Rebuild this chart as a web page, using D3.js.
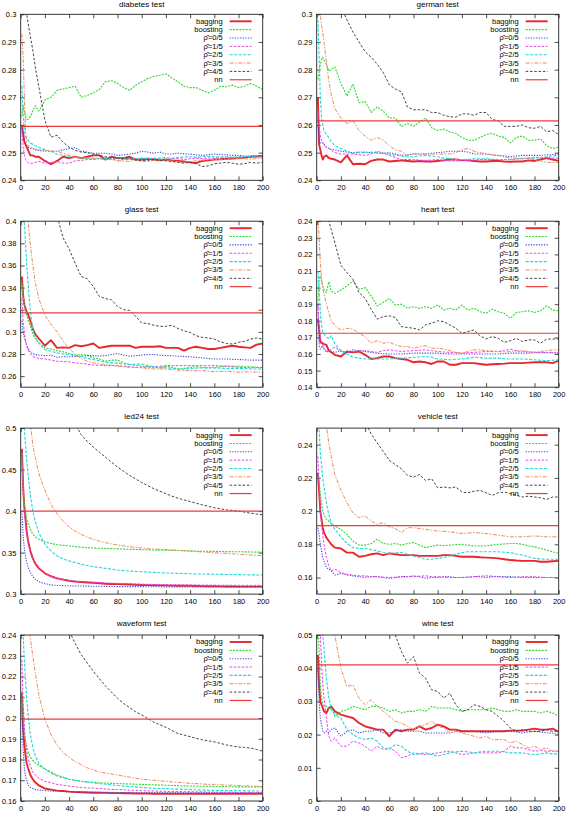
<!DOCTYPE html>
<html><head><meta charset="utf-8">
<script src="https://cdn.jsdelivr.net/npm/d3@7"></script>
<style>
body{margin:0;background:#fff}
svg{display:block}
text{font-family:"Liberation Sans",Arial,Helvetica,sans-serif;fill:#000}
</style>
</head><body>
<svg id="chart" width="570" height="814"></svg>
<script>
// ---------- data ----------
const xs = [1,2,3,4,5,6,8,10,12,15,
  20,25,30,35,40,45,50,55,60,65,
  70,75,80,85,90,95,100,105,110,115,
  120,125,130,135,140,145,150,155,160,165,
  170,175,180,185,190,195,200];

const panelTitles = ["diabetes test","german test","glass test","heart test","led24 test","vehicle test","waveform test","wine test"];
const seriesNames = ["bagging","boosting","\u03C1\u0302=0/5","\u03C1\u0302=1/5","\u03C1\u0302=2/5","\u03C1\u0302=3/5","\u03C1\u0302=4/5","nn"];
const xTicks = [0,20,40,60,80,100,120,140,160,180,200];
const yDomains = [[0.24,0.30],[0.24,0.30],[0.25,0.40],[0.14,0.24],[0.30,0.50],[0.15,0.25],[0.16,0.24],[0,0.05]];
const yTicks = [
  [0.24,0.25,0.26,0.27,0.28,0.29,0.3],
  [0.24,0.25,0.26,0.27,0.28,0.29,0.3],
  [0.26,0.28,0.3,0.32,0.34,0.36,0.38,0.4],
  [0.14,0.15,0.16,0.17,0.18,0.19,0.2,0.21,0.22,0.23,0.24],
  [0.3,0.35,0.4,0.45,0.5],
  [0.16,0.18,0.2,0.22,0.24],
  [0.16,0.17,0.18,0.19,0.2,0.21,0.22,0.23,0.24],
  [0,0.01,0.02,0.03,0.04,0.05]
];
const nnLevels = [0.2595,0.2615,0.3172,0.1725,0.40,0.1913,0.1995,0.041];

// series order: bagging, boosting, rho0, rho1, rho2, rho3, rho4
const diabetesSeries = [
 [0.260,0.257,0.254,0.253,0.252,0.251,0.249,0.249,0.2485,0.2485, 0.247,0.2458,0.247,0.2485,0.248,0.2485,0.248,0.2485,0.249,0.249, 0.2475,0.2485,0.248,0.248,0.2485,0.2475,0.2475,0.2478,0.2475,0.2473, 0.2475,0.2472,0.247,0.2468,0.2465,0.2462,0.247,0.2472,0.2475,0.2476, 0.2478,0.2479,0.248,0.2482,0.2485,0.2486,0.2488],
 [0.263,0.267,0.265,0.263,0.262,0.262,0.263,0.265,0.267,0.265, 0.269,0.270,0.2725,0.273,0.2735,0.274,0.270,0.2707,0.2716,0.2728, 0.2756,0.276,0.275,0.2735,0.2725,0.2744,0.2756,0.2768,0.2775,0.278, 0.2785,0.277,0.2756,0.274,0.2735,0.2735,0.2725,0.2716,0.2725,0.274, 0.2738,0.2744,0.2735,0.274,0.275,0.274,0.2728],
 [0.259,0.256,0.254,0.253,0.2525,0.252,0.2515,0.2515,0.251,0.2508, 0.2505,0.2505,0.2505,0.251,0.2515,0.2518,0.2505,0.2502,0.2498,0.2498, 0.2498,0.2495,0.249,0.2492,0.2495,0.2498,0.2505,0.2502,0.2498,0.2502, 0.2495,0.2495,0.2498,0.2496,0.2495,0.2492,0.249,0.2492,0.2495,0.2493, 0.2492,0.249,0.249,0.2488,0.2488,0.2489,0.249],
 [0.258,0.252,0.249,0.2475,0.247,0.2465,0.246,0.2462,0.2465,0.2468, 0.2462,0.2465,0.2468,0.2462,0.2462,0.247,0.2472,0.2475,0.2475,0.2478, 0.2475,0.2478,0.2472,0.2475,0.2478,0.2475,0.2478,0.248,0.2478,0.2476, 0.2475,0.2478,0.2478,0.2475,0.2478,0.248,0.2478,0.248,0.248,0.2482, 0.248,0.2482,0.2482,0.2484,0.2485,0.2485,0.2485],
 [0.274,0.264,0.258,0.256,0.255,0.2545,0.2535,0.253,0.2525,0.252, 0.251,0.2505,0.2495,0.249,0.2485,0.2482,0.248,0.248,0.2478,0.248, 0.248,0.2478,0.248,0.2478,0.2476,0.2478,0.248,0.2478,0.248,0.248, 0.2482,0.248,0.2482,0.2484,0.2485,0.2483,0.2485,0.2486,0.2485,0.2484, 0.2485,0.2484,0.2485,0.2486,0.2485,0.2484,0.2485],
 [0.293,0.285,0.270,0.258,0.253,0.2525,0.252,0.2515,0.2512,0.251, 0.251,0.2505,0.2505,0.2498,0.249,0.2485,0.248,0.248,0.248,0.2478, 0.2475,0.2475,0.247,0.247,0.2468,0.2472,0.247,0.2468,0.2472,0.247, 0.2472,0.247,0.2468,0.2465,0.2468,0.247,0.2472,0.2475,0.2475,0.2476, 0.2476,0.2478,0.2478,0.2478,0.2477,0.2478,0.2478],
 [0.34,0.325,0.315,0.305,0.300,0.297,0.292,0.287,0.281,0.2738, 0.2617,0.2556,0.2563,0.2538,0.252,0.2508,0.2502,0.250,0.2495,0.249, 0.2485,0.2482,0.248,0.2478,0.2478,0.2474,0.247,0.2472,0.2475,0.2472, 0.247,0.2468,0.2465,0.2462,0.2465,0.246,0.245,0.2452,0.246,0.2462, 0.2465,0.2462,0.2458,0.246,0.2465,0.2462,0.2465]
];
const germanSeries = [
 [0.270,0.253,0.251,0.249,0.2475,0.2485,0.249,0.248,0.2478,0.2475, 0.2465,0.249,0.2458,0.246,0.2458,0.247,0.2475,0.2475,0.2468,0.247, 0.2472,0.247,0.2468,0.247,0.2468,0.2468,0.247,0.2472,0.2475,0.2475, 0.2473,0.2472,0.247,0.2468,0.2468,0.247,0.247,0.2468,0.2467,0.2468, 0.2468,0.2472,0.247,0.2475,0.248,0.2475,0.247],
 [0.2765,0.279,0.282,0.2835,0.2845,0.2835,0.282,0.2795,0.280,0.281, 0.275,0.2705,0.2747,0.268,0.2685,0.2645,0.2665,0.265,0.2625,0.2625, 0.2594,0.2605,0.2595,0.261,0.2625,0.259,0.258,0.2585,0.2575,0.257, 0.2555,0.2545,0.2545,0.2555,0.2565,0.257,0.256,0.2555,0.2535,0.2555, 0.256,0.2545,0.2545,0.255,0.2525,0.2515,0.252],
 [0.263,0.254,0.2535,0.2535,0.2535,0.253,0.252,0.2515,0.2512,0.251, 0.2505,0.2502,0.250,0.2502,0.2502,0.250,0.2498,0.2498,0.250,0.2495, 0.249,0.2492,0.2495,0.2495,0.2495,0.2498,0.250,0.2502,0.2505,0.2505, 0.2505,0.2502,0.2495,0.2495,0.2495,0.2492,0.249,0.2488,0.2485,0.2488, 0.249,0.249,0.249,0.249,0.2492,0.2493,0.2495],
 [0.265,0.26,0.256,0.2545,0.2535,0.253,0.252,0.2515,0.2508,0.250, 0.2495,0.2495,0.2495,0.2492,0.249,0.2495,0.2505,0.2498,0.249,0.2482, 0.2475,0.2475,0.2475,0.2473,0.2472,0.2473,0.2475,0.2472,0.247,0.247, 0.247,0.2472,0.2473,0.2475,0.2475,0.2475,0.2475,0.2475,0.2475,0.2477, 0.2478,0.248,0.2482,0.2482,0.2482,0.248,0.248],
 [0.298,0.285,0.270,0.263,0.26,0.258,0.2565,0.2555,0.254,0.2525, 0.2515,0.2505,0.2498,0.250,0.250,0.2502,0.250,0.2498,0.2495,0.249, 0.2488,0.2485,0.2485,0.2488,0.249,0.2488,0.2485,0.248,0.2478,0.2475, 0.2475,0.2476,0.2478,0.2478,0.2478,0.2476,0.2475,0.2475,0.2475,0.2478, 0.2478,0.248,0.248,0.2482,0.2485,0.2488,0.249],
 [0.33,0.312,0.300,0.296,0.2935,0.290,0.283,0.276,0.271,0.266, 0.2625,0.2605,0.2615,0.258,0.256,0.2545,0.2555,0.2545,0.2525,0.251, 0.2505,0.249,0.2495,0.2495,0.2495,0.2495,0.2495,0.2495,0.2495,0.250, 0.251,0.2515,0.2505,0.250,0.2495,0.2492,0.249,0.2485,0.248,0.248, 0.248,0.2478,0.2475,0.247,0.2465,0.2465,0.2465],
 [0.40,0.39,0.38,0.37,0.36,0.352,0.34,0.33,0.322,0.313, 0.303,0.298,0.2935,0.290,0.2865,0.2845,0.282,0.279,0.2745,0.273, 0.272,0.2665,0.2655,0.2655,0.2655,0.2645,0.2645,0.2635,0.263,0.2628, 0.264,0.264,0.2635,0.2645,0.2645,0.262,0.2615,0.2595,0.2595,0.2595, 0.260,0.259,0.2588,0.2595,0.2575,0.258,0.2565]
];
const glassSeries = [
 [0.350,0.333,0.325,0.321,0.318,0.316,0.31,0.303,0.298,0.294, 0.2875,0.2925,0.2855,0.286,0.2855,0.288,0.287,0.288,0.2895,0.2855, 0.2865,0.2875,0.2875,0.2875,0.2875,0.2855,0.2865,0.2865,0.2865,0.287, 0.2855,0.2855,0.2855,0.283,0.2855,0.2865,0.2855,0.2845,0.2845,0.2855, 0.2865,0.2875,0.2865,0.286,0.2855,0.2885,0.2895],
 [0.345,0.332,0.325,0.32,0.315,0.311,0.305,0.298,0.294,0.29, 0.2855,0.2845,0.283,0.282,0.2805,0.279,0.2795,0.279,0.2765,0.2755, 0.2735,0.2745,0.2745,0.272,0.2705,0.270,0.269,0.2685,0.268,0.2675, 0.269,0.268,0.2665,0.267,0.268,0.2685,0.268,0.2675,0.268,0.2685, 0.269,0.2688,0.269,0.2685,0.2685,0.268,0.2675],
 [0.31,0.30,0.295,0.291,0.288,0.285,0.282,0.28,0.2795,0.279, 0.2785,0.279,0.277,0.2775,0.2775,0.2778,0.278,0.2785,0.2785,0.2782, 0.2785,0.2795,0.2805,0.279,0.278,0.2785,0.279,0.2795,0.2795,0.279, 0.2785,0.2785,0.278,0.2778,0.2775,0.277,0.2765,0.276,0.2755,0.2755, 0.2755,0.2752,0.275,0.2748,0.2745,0.2745,0.2745],
 [0.33,0.31,0.30,0.293,0.287,0.284,0.28,0.2775,0.277,0.276, 0.2755,0.2745,0.2735,0.2732,0.273,0.272,0.2715,0.2708,0.270,0.2698, 0.2695,0.2695,0.2695,0.269,0.2685,0.268,0.268,0.2682,0.2685,0.269, 0.2695,0.2695,0.2695,0.2695,0.2695,0.2695,0.2695,0.2695,0.2695,0.2692, 0.269,0.2685,0.268,0.2678,0.2675,0.2678,0.268],
 [0.46,0.43,0.40,0.38,0.36,0.345,0.318,0.302,0.296,0.29, 0.284,0.2825,0.281,0.280,0.2795,0.2785,0.2775,0.276,0.275,0.2738, 0.2725,0.272,0.2715,0.271,0.2705,0.2708,0.271,0.2695,0.2685,0.268, 0.2675,0.267,0.2665,0.2665,0.267,0.2672,0.2675,0.2675,0.2675,0.2672, 0.267,0.267,0.267,0.2668,0.2665,0.2665,0.2665],
 [0.52,0.48,0.455,0.435,0.418,0.40,0.378,0.36,0.345,0.33, 0.315,0.307,0.30,0.292,0.285,0.28,0.276,0.2735,0.272,0.271, 0.2705,0.2698,0.269,0.2685,0.268,0.2678,0.2675,0.267,0.2665,0.2665, 0.2665,0.266,0.2655,0.2652,0.265,0.2648,0.265,0.2645,0.264,0.2642, 0.2645,0.264,0.2635,0.2638,0.264,0.2636,0.2635],
 [0.70,0.65,0.62,0.60,0.58,0.56,0.53,0.51,0.49,0.47, 0.44,0.42,0.405,0.385,0.375,0.362,0.35,0.348,0.341,0.332, 0.33,0.329,0.323,0.32,0.3195,0.314,0.308,0.3075,0.306,0.305, 0.305,0.306,0.303,0.301,0.2995,0.2965,0.295,0.2945,0.2935,0.291, 0.2895,0.289,0.2905,0.2915,0.2935,0.2945,0.2935]
];
const heartSeries = [
 [0.181,0.175,0.167,0.1668,0.1665,0.166,0.1655,0.162,0.161,0.1595, 0.1585,0.1615,0.161,0.1615,0.1595,0.157,0.1575,0.1585,0.1585,0.1575, 0.157,0.1565,0.155,0.1555,0.155,0.154,0.1555,0.1555,0.1535,0.1535, 0.1545,0.1545,0.1545,0.154,0.1535,0.1538,0.154,0.1542,0.1545,0.1545, 0.1545,0.1548,0.155,0.155,0.155,0.1545,0.156],
 [0.19,0.205,0.207,0.204,0.201,0.199,0.197,0.2035,0.198,0.1965, 0.1985,0.201,0.204,0.199,0.200,0.195,0.189,0.191,0.1935,0.1895, 0.190,0.1875,0.1885,0.1875,0.1885,0.1875,0.1895,0.1865,0.1875,0.1865, 0.1895,0.1865,0.1875,0.1855,0.1845,0.187,0.1855,0.1845,0.1815,0.185, 0.1855,0.186,0.185,0.186,0.189,0.1865,0.186],
 [0.19,0.165,0.163,0.164,0.165,0.163,0.161,0.1625,0.1615,0.161, 0.162,0.1605,0.1625,0.162,0.1615,0.161,0.1605,0.1602,0.160,0.160, 0.160,0.1602,0.1605,0.1605,0.1605,0.1605,0.1605,0.1602,0.160,0.160, 0.160,0.160,0.160,0.160,0.160,0.160,0.160,0.1602,0.1605,0.1605, 0.1605,0.1605,0.1608,0.1608,0.1608,0.1606,0.1605],
 [0.19,0.178,0.17,0.167,0.165,0.1635,0.162,0.1615,0.163,0.164, 0.1615,0.1612,0.1615,0.1618,0.162,0.1615,0.161,0.162,0.1625,0.162, 0.1615,0.1618,0.162,0.1622,0.1625,0.162,0.1615,0.1612,0.161,0.1608, 0.1605,0.1608,0.161,0.1612,0.1615,0.1615,0.1615,0.162,0.163,0.162, 0.1615,0.1612,0.161,0.161,0.161,0.161,0.161],
 [0.21,0.20,0.185,0.178,0.173,0.172,0.1705,0.169,0.171,0.166, 0.162,0.160,0.158,0.1575,0.157,0.157,0.157,0.157,0.157,0.1572, 0.1575,0.1578,0.158,0.1582,0.1585,0.158,0.157,0.1568,0.1565,0.1568, 0.157,0.1575,0.158,0.1578,0.1575,0.1575,0.1575,0.1572,0.157,0.157, 0.157,0.1568,0.1565,0.1562,0.156,0.1562,0.1565],
 [0.245,0.23,0.215,0.206,0.20,0.196,0.19,0.185,0.18,0.177, 0.1745,0.1755,0.175,0.1725,0.1705,0.1665,0.168,0.1665,0.167,0.1655, 0.1645,0.1645,0.1635,0.1645,0.165,0.1635,0.1635,0.163,0.162,0.161, 0.1605,0.1615,0.1625,0.1625,0.162,0.1618,0.1615,0.1612,0.1615,0.1618, 0.162,0.1615,0.161,0.1615,0.162,0.1625,0.1625],
 [0.30,0.29,0.28,0.27,0.262,0.256,0.248,0.24,0.235,0.227, 0.2135,0.209,0.205,0.197,0.1935,0.187,0.181,0.1825,0.183,0.182, 0.1765,0.176,0.1755,0.1745,0.1775,0.1785,0.180,0.1795,0.1775,0.1755, 0.1725,0.1735,0.1745,0.171,0.169,0.1705,0.1695,0.167,0.168,0.1695, 0.1675,0.1685,0.1685,0.1665,0.169,0.169,0.169]
];
const led24Series = [
 [0.475,0.43,0.405,0.39,0.375,0.365,0.352,0.343,0.337,0.331, 0.325,0.3215,0.319,0.3175,0.316,0.315,0.3145,0.314,0.3135,0.313, 0.3125,0.3122,0.312,0.3118,0.3115,0.3112,0.311,0.3108,0.3106,0.3105, 0.3105,0.3102,0.31,0.31,0.31,0.3098,0.3096,0.3095,0.3095,0.3093, 0.3092,0.3092,0.309,0.309,0.309,0.309,0.309],
 [0.47,0.43,0.41,0.40,0.39,0.385,0.378,0.372,0.369,0.366, 0.363,0.361,0.3595,0.3588,0.358,0.3572,0.3565,0.356,0.3555,0.3552, 0.355,0.3548,0.3545,0.3542,0.354,0.3538,0.3535,0.3533,0.3531,0.353, 0.353,0.3527,0.3525,0.3522,0.352,0.3518,0.3516,0.3515,0.3515,0.3513, 0.3512,0.3511,0.351,0.3509,0.3508,0.3506,0.3505],
 [0.40,0.37,0.355,0.345,0.338,0.333,0.326,0.321,0.318,0.315, 0.3125,0.311,0.3105,0.3102,0.31,0.3098,0.3097,0.3096,0.3095,0.3094, 0.3093,0.3092,0.309,0.309,0.309,0.309,0.309,0.3089,0.3088,0.3088, 0.3087,0.3087,0.3086,0.3086,0.3085,0.3085,0.3085,0.3085,0.3085,0.3085, 0.3085,0.3085,0.3085,0.3085,0.3085,0.3085,0.3085],
 [0.47,0.42,0.40,0.385,0.372,0.363,0.35,0.342,0.337,0.331, 0.325,0.3215,0.3195,0.318,0.317,0.316,0.3152,0.3148,0.3145,0.314, 0.3135,0.3132,0.313,0.3127,0.3125,0.3122,0.312,0.3118,0.3117,0.3115, 0.3114,0.3113,0.3112,0.3111,0.311,0.311,0.3109,0.3108,0.3108,0.3107, 0.3107,0.3106,0.3106,0.3105,0.3105,0.3105,0.3105],
 [0.56,0.53,0.50,0.48,0.46,0.445,0.42,0.40,0.388,0.374, 0.36,0.352,0.346,0.3425,0.34,0.338,0.336,0.3345,0.333,0.332, 0.331,0.330,0.329,0.3283,0.3277,0.3273,0.327,0.3265,0.3262,0.3258, 0.3255,0.3252,0.325,0.3248,0.3245,0.3243,0.3242,0.3241,0.324,0.3238, 0.3237,0.3236,0.3235,0.3233,0.3232,0.3231,0.323],
 [0.68,0.62,0.58,0.56,0.54,0.525,0.505,0.48,0.465,0.445, 0.425,0.408,0.397,0.388,0.381,0.376,0.372,0.3685,0.366,0.3638, 0.362,0.3605,0.3593,0.3582,0.3572,0.3563,0.3555,0.3548,0.3542,0.3538, 0.3534,0.3531,0.3528,0.3523,0.3518,0.3513,0.3508,0.3503,0.3498,0.3494, 0.349,0.3485,0.348,0.3475,0.347,0.3467,0.3463],
 [0.95,0.9,0.86,0.83,0.8,0.78,0.74,0.71,0.68,0.65, 0.61,0.58,0.555,0.535,0.52,0.505,0.492,0.484,0.477,0.471, 0.465,0.459,0.453,0.448,0.443,0.4388,0.4345,0.4307,0.427,0.424, 0.421,0.418,0.4155,0.4135,0.4115,0.4095,0.4075,0.4058,0.404,0.4028, 0.4015,0.4008,0.400,0.3988,0.3975,0.3965,0.3955]
];
const vehicleSeries = [
 [0.223,0.212,0.20,0.195,0.19,0.187,0.184,0.182,0.18,0.178, 0.1775,0.175,0.175,0.1725,0.173,0.174,0.1745,0.1735,0.1745,0.174, 0.1735,0.1735,0.1735,0.173,0.173,0.173,0.173,0.1735,0.1735,0.173, 0.1725,0.1725,0.1725,0.1722,0.172,0.1718,0.1715,0.171,0.1705,0.1702, 0.170,0.170,0.170,0.1695,0.1695,0.1698,0.170],
 [0.222,0.218,0.21,0.205,0.20,0.198,0.195,0.194,0.1925,0.191, 0.189,0.186,0.182,0.1795,0.1795,0.1805,0.183,0.1805,0.180,0.1805, 0.1795,0.1805,0.181,0.1795,0.178,0.1788,0.1795,0.1792,0.1795,0.1798, 0.180,0.1795,0.179,0.179,0.179,0.1795,0.180,0.1802,0.1805,0.1805, 0.180,0.179,0.1785,0.1775,0.1765,0.1755,0.1745],
 [0.19,0.186,0.18,0.176,0.172,0.17,0.166,0.165,0.164,0.1615, 0.1625,0.1615,0.161,0.1605,0.160,0.1605,0.1605,0.160,0.1595,0.160, 0.1605,0.1605,0.161,0.1605,0.1595,0.160,0.160,0.1605,0.1605,0.160, 0.160,0.1602,0.1605,0.1605,0.160,0.1605,0.1605,0.1605,0.1605,0.1602, 0.160,0.160,0.160,0.160,0.160,0.160,0.160],
 [0.233,0.215,0.20,0.192,0.185,0.18,0.172,0.167,0.164,0.165, 0.163,0.162,0.1615,0.161,0.161,0.1605,0.1605,0.1602,0.160,0.1602, 0.1605,0.1605,0.1605,0.1608,0.161,0.1605,0.1605,0.1602,0.160,0.160, 0.160,0.1602,0.1605,0.1608,0.161,0.1608,0.1605,0.1602,0.160,0.1602, 0.1605,0.1605,0.1605,0.1602,0.160,0.160,0.160],
 [0.26,0.25,0.235,0.228,0.22,0.215,0.205,0.198,0.193,0.189, 0.1845,0.1805,0.178,0.1775,0.1775,0.1768,0.176,0.1752,0.1745,0.1748, 0.175,0.174,0.173,0.172,0.171,0.171,0.1715,0.172,0.173,0.174, 0.175,0.1755,0.1755,0.1755,0.1755,0.1755,0.1755,0.1752,0.175,0.1742, 0.1735,0.1725,0.1715,0.1712,0.171,0.171,0.171],
 [0.30,0.29,0.28,0.272,0.266,0.261,0.252,0.241,0.233,0.222, 0.2125,0.205,0.199,0.196,0.197,0.194,0.192,0.193,0.1905,0.1895, 0.187,0.19,0.19,0.1895,0.189,0.1885,0.188,0.1878,0.1875,0.187, 0.1865,0.1868,0.187,0.1868,0.1865,0.186,0.1855,0.185,0.1845,0.1845, 0.1845,0.1848,0.185,0.1848,0.1845,0.1845,0.1845],
 [0.40,0.38,0.36,0.35,0.34,0.33,0.32,0.31,0.30,0.29, 0.285,0.278,0.27,0.262,0.254,0.2465,0.241,0.236,0.2305,0.228, 0.2255,0.2215,0.2205,0.222,0.2185,0.2195,0.214,0.2145,0.214,0.2145, 0.2115,0.211,0.212,0.2125,0.211,0.2095,0.211,0.2115,0.2105,0.2095, 0.2085,0.209,0.2085,0.208,0.207,0.2085,0.2085]
];
const waveformSeries = [
 [0.212,0.195,0.187,0.182,0.178,0.176,0.1725,0.1705,0.169,0.1675, 0.166,0.1655,0.165,0.1648,0.1645,0.1643,0.1642,0.1641,0.164,0.164, 0.1639,0.1638,0.1638,0.1637,0.1637,0.1636,0.1636,0.1636,0.1635,0.1635, 0.1635,0.1635,0.1635,0.1635,0.1635,0.1635,0.1635,0.1635,0.1635,0.1635, 0.1635,0.1635,0.1635,0.1635,0.1635,0.1635,0.1635],
 [0.213,0.20,0.193,0.189,0.186,0.184,0.181,0.1795,0.1785,0.177, 0.1755,0.174,0.1725,0.1715,0.1705,0.17,0.1695,0.1692,0.169,0.1688, 0.1686,0.1685,0.1684,0.1683,0.1682,0.1681,0.168,0.1679,0.1678,0.1677, 0.1676,0.1675,0.1674,0.1673,0.1672,0.1672,0.1671,0.1671,0.167,0.167, 0.1669,0.1669,0.1668,0.1668,0.1668,0.1668,0.1668],
 [0.205,0.185,0.176,0.172,0.17,0.168,0.1665,0.166,0.1656,0.1653, 0.165,0.1648,0.1647,0.1646,0.1645,0.1644,0.1644,0.1643,0.1643,0.1642, 0.1642,0.1641,0.1641,0.1641,0.164,0.164,0.164,0.164,0.164,0.164, 0.164,0.164,0.164,0.164,0.164,0.164,0.164,0.164,0.164,0.164, 0.164,0.164,0.164,0.164,0.164,0.164,0.164],
 [0.228,0.208,0.196,0.189,0.184,0.181,0.177,0.174,0.1725,0.171, 0.1695,0.1688,0.168,0.1676,0.1672,0.1668,0.1665,0.1663,0.1662,0.166, 0.1658,0.1656,0.1655,0.1654,0.1652,0.1651,0.165,0.1649,0.1648,0.1647, 0.1647,0.1646,0.1646,0.1645,0.1645,0.1644,0.1644,0.1643,0.1643,0.1642, 0.1642,0.1642,0.1641,0.1641,0.164,0.164,0.164],
 [0.25,0.24,0.228,0.218,0.209,0.202,0.192,0.186,0.182,0.178, 0.1755,0.1735,0.172,0.1712,0.1705,0.17,0.1695,0.1691,0.1688,0.1684, 0.1681,0.1678,0.1675,0.1672,0.167,0.1668,0.1665,0.1663,0.1661,0.166, 0.166,0.1658,0.1657,0.1656,0.1655,0.1654,0.1653,0.1652,0.1651,0.165, 0.165,0.165,0.165,0.1649,0.1649,0.1648,0.1648],
 [0.29,0.275,0.265,0.258,0.252,0.247,0.238,0.23,0.222,0.211, 0.1995,0.192,0.187,0.1835,0.181,0.179,0.1775,0.176,0.175,0.174, 0.1735,0.173,0.1725,0.172,0.1715,0.171,0.1705,0.1702,0.17,0.1697, 0.1695,0.1692,0.169,0.1688,0.1685,0.1684,0.1682,0.168,0.168,0.1678, 0.1677,0.1676,0.1675,0.1673,0.1672,0.1671,0.167],
 [0.40,0.38,0.36,0.35,0.34,0.33,0.315,0.30,0.29,0.28, 0.275,0.265,0.256,0.249,0.242,0.236,0.2305,0.2265,0.2225,0.219, 0.2155,0.2125,0.2095,0.207,0.205,0.203,0.2015,0.1998,0.198,0.1968, 0.1955,0.194,0.1925,0.1918,0.191,0.1902,0.1895,0.189,0.1885,0.1878, 0.187,0.1865,0.186,0.1858,0.1855,0.1848,0.184]
];
const wineSeries = [
 [0.044,0.035,0.03,0.029,0.028,0.027,0.0265,0.028,0.0285,0.027, 0.026,0.0255,0.025,0.0235,0.0225,0.022,0.0215,0.0215,0.0195,0.0215, 0.021,0.0215,0.0215,0.0225,0.0215,0.022,0.023,0.0225,0.0215,0.0215, 0.021,0.021,0.021,0.021,0.021,0.021,0.021,0.021,0.0212,0.0212, 0.0212,0.0215,0.0218,0.0215,0.0215,0.0218,0.0208],
 [0.055,0.045,0.035,0.031,0.029,0.0285,0.0285,0.0275,0.028,0.0255, 0.027,0.0275,0.0285,0.028,0.0275,0.0285,0.0285,0.028,0.027,0.0275, 0.0265,0.027,0.027,0.0275,0.027,0.0285,0.028,0.028,0.028,0.0275, 0.027,0.0275,0.0275,0.0275,0.0275,0.028,0.0275,0.027,0.027,0.0275, 0.027,0.027,0.027,0.0265,0.027,0.0265,0.0255],
 [0.04,0.03,0.025,0.023,0.021,0.0205,0.021,0.0205,0.0215,0.022, 0.0195,0.021,0.0215,0.0205,0.021,0.021,0.0215,0.0205,0.0205,0.021, 0.0215,0.021,0.021,0.021,0.0205,0.0205,0.0205,0.0205,0.0205,0.021, 0.021,0.021,0.021,0.0208,0.0205,0.0208,0.021,0.021,0.021,0.0208, 0.0205,0.0208,0.021,0.0208,0.0205,0.0205,0.020],
 [0.07,0.06,0.05,0.042,0.035,0.031,0.025,0.0195,0.018,0.019, 0.0165,0.0165,0.018,0.0175,0.0165,0.015,0.0165,0.0155,0.016,0.015, 0.013,0.0135,0.0145,0.0142,0.014,0.0142,0.0145,0.0148,0.015,0.0145, 0.014,0.0142,0.0145,0.0145,0.0145,0.0145,0.0145,0.015,0.0165,0.016, 0.016,0.0155,0.015,0.0152,0.015,0.015,0.015],
 [0.075,0.065,0.058,0.053,0.05,0.046,0.037,0.031,0.028,0.026, 0.025,0.0215,0.020,0.019,0.0185,0.019,0.018,0.016,0.0155,0.017, 0.0165,0.015,0.014,0.0142,0.0145,0.014,0.0135,0.014,0.0145,0.0148, 0.015,0.0148,0.0145,0.0148,0.015,0.015,0.015,0.0148,0.0145,0.0145, 0.0145,0.0142,0.014,0.0142,0.0145,0.0142,0.0142],
 [0.10,0.09,0.085,0.08,0.075,0.07,0.065,0.06,0.056,0.05, 0.04,0.0345,0.035,0.031,0.029,0.0305,0.0285,0.027,0.0255,0.024, 0.0235,0.0225,0.0215,0.0225,0.023,0.024,0.0225,0.022,0.0205,0.021, 0.0205,0.020,0.0195,0.019,0.0195,0.0185,0.0185,0.0185,0.0175,0.018, 0.017,0.016,0.0165,0.0155,0.016,0.015,0.0152],
 [0.20,0.19,0.18,0.17,0.165,0.16,0.15,0.14,0.13,0.12, 0.105,0.095,0.088,0.08,0.074,0.068,0.062,0.058,0.054,0.05, 0.045,0.0415,0.0435,0.0385,0.037,0.0335,0.033,0.031,0.0325,0.029, 0.027,0.0275,0.029,0.0285,0.0275,0.027,0.0255,0.024,0.022,0.021, 0.0215,0.021,0.021,0.021,0.0215,0.021,0.021]
];
const panelSeries = [diabetesSeries,germanSeries,glassSeries,heartSeries,led24Series,vehicleSeries,waveformSeries,wineSeries];

// ---------- style ----------
const colors = ["#e8262c","#33d633","#4040e0","#e844e8","#22d8d8","#ee8a5c","#444444","#ee3a3a"];
const widths = [1.9,1.1,1.1,1.0,1.1,1.0,1.0,1.2];
const dashes = [null,"2,1.2","1.2,1.4","2.5,1.5","3,1.5","4,1.5,1.5,1.5","2.5,1.8",null];

const colX = [20.7,316.7], rowY = [14.3,221.2,428.1,635.0];
const W = 242, H = 166;

const svg = d3.select("#chart");
svg.append("rect").attr("width",570).attr("height",814).attr("fill","#fff");

panelSeries.forEach((series, p) => {
  const top = rowY[Math.floor(p/2)];
  const g = svg.append("g").attr("transform",`translate(${colX[p%2]},${top})`);
  const x = d3.scaleLinear().domain([0,200]).range([0,W]);
  const y = d3.scaleLinear().domain(yDomains[p]).range([H,0]);
  const fmt = d3.format("~g");

  const clipId = "clip"+p;
  g.append("clipPath").attr("id",clipId).append("rect").attr("width",W).attr("height",H);

  // axes (inward ticks, mirrored)
  const axL = g.append("g").call(d3.axisLeft(y).tickValues(yTicks[p]).tickSize(-4).tickPadding(4.4).tickFormat(fmt));
  const axR = g.append("g").attr("transform",`translate(${W},0)`).call(d3.axisRight(y).tickValues(yTicks[p]).tickSize(-4).tickFormat(""));
  const axB = g.append("g").attr("transform",`translate(0,${H})`).call(d3.axisBottom(x).tickValues(xTicks).tickSize(-4).tickPadding(4.6).tickFormat(fmt));
  const axT = g.append("g").call(d3.axisTop(x).tickValues(xTicks).tickSize(-4).tickFormat(""));
  [axL,axR,axB,axT].forEach(a => {
    a.select(".domain").remove();
    a.selectAll("line").attr("stroke","#222").attr("stroke-width",0.8);
    a.selectAll("text").attr("font-size","7.5px").attr("fill","#000")
      .attr("font-family","'Liberation Sans',Arial,sans-serif");
  });

  // series lines
  const line = d3.line().x(d => x(d[0])).y(d => y(d[1]));
  const plot = g.append("g").attr("clip-path",`url(#${clipId})`);
  series.forEach((vals, s) => {
    const pts = xs.map((xv,i) => [xv, vals[i]]);
    plot.append("path").datum(pts).attr("d",line)
      .attr("fill","none").attr("stroke",colors[s]).attr("stroke-width",widths[s])
      .attr("stroke-dasharray",dashes[s]).attr("stroke-linejoin","round");
  });
  // nn reference line
  plot.append("path").datum([[0,nnLevels[p]],[200,nnLevels[p]]]).attr("d",line)
    .attr("fill","none").attr("stroke",colors[7]).attr("stroke-width",widths[7]);

  // border
  g.append("rect").attr("width",W).attr("height",H).attr("fill","none")
    .attr("stroke","#222").attr("stroke-width",0.9);

  // title (kept fully inside the page for the top row)
  g.append("text").attr("x",W/2).attr("y",Math.max(-9.2, 7.2 - top)).attr("text-anchor","middle")
    .attr("font-size","8px").text(panelTitles[p]);

  // legend
  const lg = g.append("g");
  seriesNames.forEach((name, s) => {
    const yy = 7 + s*8.35;
    lg.append("text").attr("x",W-40).attr("y",yy).attr("dy","0.33em")
      .attr("text-anchor","end").attr("font-size","7.5px").text(name);
    lg.append("line").attr("x1",W-33).attr("x2",W-11).attr("y1",yy).attr("y2",yy)
      .attr("stroke",colors[s]).attr("stroke-width",widths[s]).attr("stroke-dasharray",dashes[s]);
  });
});
</script>
</body></html>
